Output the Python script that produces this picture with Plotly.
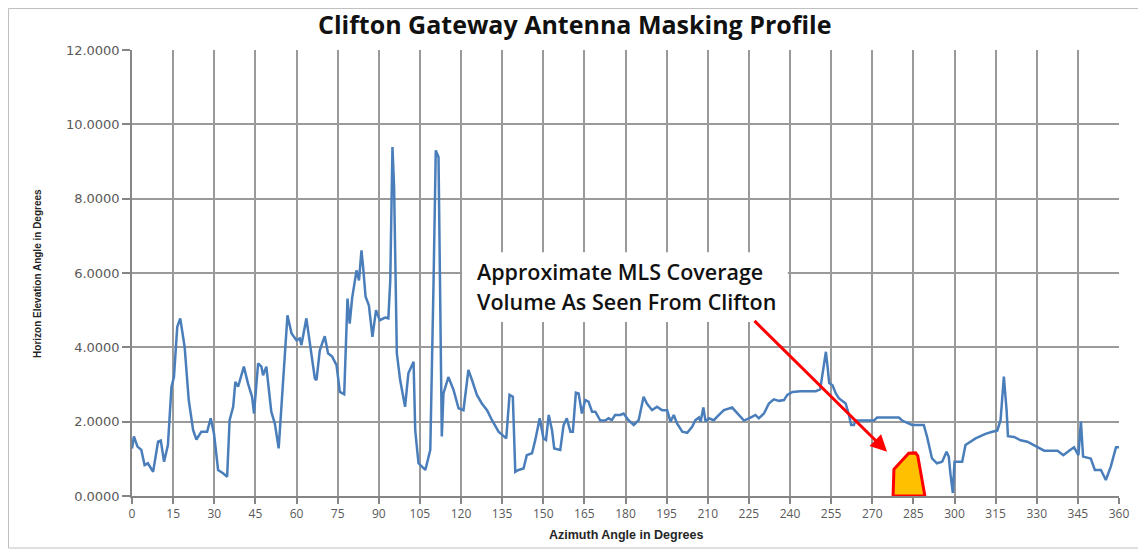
import plotly.graph_objects as go

# ---- data ----
azimuth = [
    0, 0.7, 2, 3.4, 4.6, 5.8, 7.7, 9.5, 10.5, 11.7,
    13.1, 14.4, 15.3, 16.5, 17.6, 19.2, 20.7, 22.3, 23.5, 25.3,
    27.4, 28.7, 29.9, 31.4, 33.2, 34.7, 35.6, 36.9, 37.7, 38.7,
    40.8, 42.3, 43.8, 44.5, 46, 47.2, 47.8, 49, 50.8, 52.1,
    53.5, 55.1, 56.7, 58.2, 60, 61.2, 61.8, 63.6, 64.8, 66.7,
    67.3, 68.5, 70.3, 71.5, 73, 74.6, 75.8, 77.4, 78.6, 79.4,
    80.3, 81.9, 82.8, 83.7, 84.3, 85.2, 86.4, 87.7, 89, 90.4,
    92.3, 93.5, 94.2, 95, 95.6, 96.6, 97.8, 99.6, 100.8, 102.7,
    103.3, 104.5, 107, 108.8, 110, 110.8, 111.8, 112.4, 113, 113.6,
    115.4, 117.3, 119.1, 120.9, 122.7, 124, 125.8, 127.6, 129.5, 131.3,
    133.7, 136.5, 137.7, 138.9, 139.8, 141, 142.8, 144, 145.9, 147.1,
    148.7, 150.1, 151, 152, 153.2, 154, 156.2, 157.4, 158.6, 159.9,
    160.8, 161.9, 162.9, 164.1, 165.3, 166.5, 167.8, 169, 170.8, 172.6,
    173.8, 175, 176.2, 178.1, 179.3, 181.1, 183, 184.8, 186.6, 187.8,
    189.7, 191.5, 193.3, 195.2, 196.4, 197.6, 198.8, 200.7, 202.5, 204.3,
    205.5, 206.8, 207.4, 208.4, 209.2, 210.4, 212.2, 214.1, 215.9, 218.9,
    220.8, 223.2, 225.6, 227.4, 228.6, 230.5, 232.3, 234.1, 236, 237.8,
    239, 240.9, 243.9, 249.4, 251, 251.8, 253.1, 253.7, 254.3, 255.5,
    256.7, 257.8, 260.3, 261.5, 262.3, 263.3, 263.9, 270.6, 271.8, 279.7,
    280.9, 284.5, 288.8, 290, 291.8, 293.6, 295.5, 297.1, 297.9, 298.5,
    299.4, 300, 302.8, 304, 305.8, 307.7, 309.5, 311.3, 313.8, 315.6,
    316.8, 318, 319, 319.5, 321.7, 324.1, 326.6, 329, 330.8, 332.7,
    337.6, 339.7, 341.8, 343.6, 345.2, 346.1, 346.9, 349.7, 351.2, 353.4,
    355.2, 357, 358.9, 360,
]
elevation = [
    1.28, 1.6, 1.33, 1.24, 0.83, 0.88, 0.65, 1.46, 1.49, 0.92,
    1.37, 2.94, 3.2, 4.55, 4.78, 4.01, 2.58, 1.77, 1.52, 1.73,
    1.73, 2.09, 1.68, 0.70, 0.61, 0.52, 2.04, 2.4, 3.07, 2.94,
    3.48, 3.03, 2.67, 2.22, 3.57, 3.48, 3.25, 3.48, 2.27, 1.95,
    1.28, 3.2, 4.86, 4.37, 4.19, 4.24, 4.06, 4.78, 4.19, 3.16,
    3.12, 3.92, 4.3, 3.84, 3.75, 3.52, 2.8, 2.74, 5.31, 4.64,
    5.33, 6.07, 5.8, 6.61, 6.16, 5.36, 5.13, 4.28, 5.0, 4.73,
    4.80, 4.78, 5.8, 9.39, 8.3, 3.84, 3.12, 2.4, 3.3, 3.61,
    1.77, 0.88, 0.7, 1.24, 5.8, 9.3, 9.12, 4.91, 1.6, 2.76,
    3.2, 2.85, 2.36, 2.31, 3.39, 3.12, 2.72, 2.49, 2.31, 2.04,
    1.73, 1.55, 2.72, 2.67, 0.65, 0.7, 0.74, 1.1, 1.15, 1.51,
    2.09, 1.55, 1.51, 2.18, 1.77, 1.28, 1.24, 1.9, 2.09, 1.73,
    1.73, 2.78, 2.76, 2.22, 2.58, 2.54, 2.27, 2.27, 2.03, 2.03,
    2.09, 2.04, 2.18, 2.18, 2.22, 2.04, 1.91, 2.04, 2.67, 2.49,
    2.31, 2.4, 2.31, 2.31, 2.0, 2.18, 1.95, 1.73, 1.70, 1.86,
    2.04, 2.11, 2.0, 2.38, 2.0, 2.09, 2.04, 2.18, 2.31, 2.38,
    2.22, 2.03, 2.11, 2.18, 2.09, 2.22, 2.49, 2.6, 2.56, 2.58,
    2.72, 2.8, 2.82, 2.82, 2.87, 3.21, 3.88, 3.48, 3.04, 2.98,
    2.76, 2.63, 2.49, 2.18, 1.91, 1.91, 2.03, 2.03, 2.11, 2.11,
    2.03, 1.91, 1.91, 1.59, 1.01, 0.88, 0.92, 1.19, 1.06, 0.61,
    0.08, 0.92, 0.92, 1.37, 1.46, 1.55, 1.61, 1.67, 1.73, 1.76,
    2.04, 3.21, 2.31, 1.61, 1.59, 1.5, 1.46, 1.37, 1.31, 1.22,
    1.22, 1.10, 1.22, 1.31, 1.1, 2.0, 1.06, 1.01, 0.70, 0.70,
    0.43, 0.79, 1.31, 1.31,
]
assert len(azimuth) == len(elevation)

x_ticks = list(range(0, 361, 15))
y_ticks = [0, 2, 4, 6, 8, 10, 12]

# MLS coverage volume polygon (azimuth, elevation)
mls_az = [277.6, 277.9, 283.3, 285.8, 286.6, 289.2, 277.6]
mls_el = [0.0, 0.72, 1.15, 1.16, 1.08, 0.0, 0.0]

# callout
callout_lines = ["Approximate MLS Coverage", "Volume As Seen From Clifton"]
arrow_from = (226.5, 4.75)
arrow_to = (275.4, 1.19)

title_text = "Clifton Gateway Antenna Masking Profile"
x_title = "Azimuth Angle in Degrees"
y_title = "Horizon Elevation Angle in Degrees"

# ---- figure ----
fig = go.Figure()
fig.add_trace(go.Scatter(
    x=azimuth, y=elevation, mode="lines",
    line=dict(color="#4a7ebb", width=2.5),
    showlegend=False, hoverinfo="x+y",
))
fig.add_trace(go.Scatter(
    x=mls_az, y=mls_el, mode="lines", fill="toself",
    fillcolor="#FFC000", line=dict(color="#FF0000", width=3),
    showlegend=False, hoverinfo="skip",
))

grid_col = "#9a9a9a"
axis_col = "#868686"

fig.update_xaxes(
    range=[0, 360], tickvals=x_ticks, ticktext=[str(v) for v in x_ticks],
    showgrid=True, gridcolor=grid_col, gridwidth=1.5,
    showline=True, linecolor=axis_col, linewidth=1.5,
    ticks="outside", ticklen=6, tickcolor=axis_col, tickwidth=1.5,
    tickfont=dict(family="Open Sans", size=12, color="#595959"), zeroline=False,
)
fig.update_yaxes(
    range=[0, 12], tickvals=y_ticks, tickformat=".4f",
    showgrid=True, gridcolor=grid_col, gridwidth=1.5,
    showline=True, linecolor=axis_col, linewidth=1.5,
    ticks="outside", ticklen=8, tickcolor=axis_col, tickwidth=1.5,
    tickfont=dict(family="DejaVu Sans", size=13, color="#595959"), zeroline=False,
)

shapes = [
    # white box behind the callout text
    dict(type="rect", xref="x", yref="y", x0=120.4, x1=239.2, y0=4.68, y1=6.56,
         fillcolor="white", line=dict(width=0), layer="above"),
    # outer chart border
    dict(type="rect", xref="paper", yref="paper", x0=-0.1251, x1=1.0213,
         y0=-0.1166, y1=1.0930, line=dict(color="#bfbfbf", width=1),
         fillcolor="rgba(0,0,0,0)", layer="above"),
]

callout_font = dict(family="Open Sans", size=21.5, color="#111111", weight=600)
annotations = [
    dict(x=125.1, y=6.03, xref="x", yref="y", text=callout_lines[0],
         showarrow=False, xanchor="left", yanchor="middle", font=callout_font),
    dict(x=125.1, y=5.23, xref="x", yref="y", text=callout_lines[1],
         showarrow=False, xanchor="left", yanchor="middle", font=callout_font),
    dict(x=arrow_to[0], y=arrow_to[1], ax=arrow_from[0], ay=arrow_from[1],
         xref="x", yref="y", axref="x", ayref="y", text="", showarrow=True,
         arrowhead=2, arrowsize=1.1, arrowwidth=3, arrowcolor="#FF0000"),
    dict(x=0.5, y=-0.0874, xref="paper", yref="paper", text="<b>" + x_title + "</b>",
         showarrow=False, xanchor="center", yanchor="middle",
         font=dict(family="Liberation Sans", size=12.5, color="#262626")),
    dict(x=-0.0952, y=0.498, xref="paper", yref="paper", text="<b>" + y_title + "</b>",
         showarrow=False, xanchor="center", yanchor="middle", textangle=-90,
         font=dict(family="Liberation Sans", size=10, color="#262626")),
]

fig.update_layout(
    width=1138, height=546,
    margin=dict(l=124, r=27, t=42, b=58),
    paper_bgcolor="white", plot_bgcolor="white",
    title=dict(text="<b>" + title_text + "</b>", x=0.498, xref="container",
               y=0.9689, yref="container", xanchor="center", yanchor="middle",
               font=dict(family="Open Sans", size=25, color="#111111")),
    shapes=shapes, annotations=annotations,
)

fig.write_html("out.html")
